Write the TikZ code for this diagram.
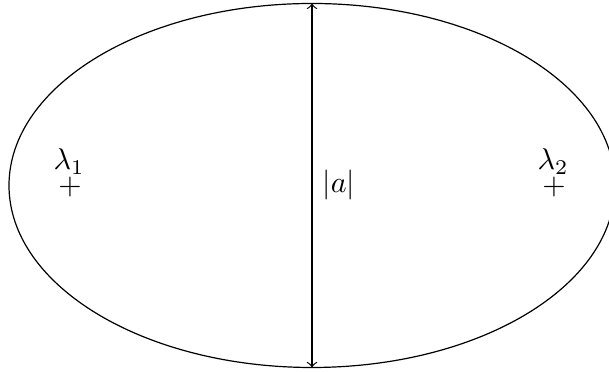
\documentclass[tikz,border=0pt]{standalone}
\begin{document}
\begin{tikzpicture}[x=0.33333pt,y=-0.33333pt,
  curve/.style={line width=0.4pt},
  lam/.style={anchor=base, inner sep=0pt},
  pt/.style={inner sep=0pt}]
\useasboundingbox (0,0) rectangle (609,372);
\clip (0,0) rectangle (609,372);
\draw[curve] (312,185.5) ellipse [x radius=303, y radius=182];
\coordinate (top) at (312,3.5);
\coordinate (bot) at (312,367.5);
\draw[<->, line width=0.4pt] (top) -- (bot) node[midway,right] (a) {$|a|$};
\node[pt] (p1) at (70,187.5) {$+$};
\node[lam] (l1) at (69,170) {$\lambda_1$};
\node[pt] (p2) at (554,187.5) {$+$};
\node[lam] (l2) at (553,170) {$\lambda_2$};
\end{tikzpicture}
\end{document}
